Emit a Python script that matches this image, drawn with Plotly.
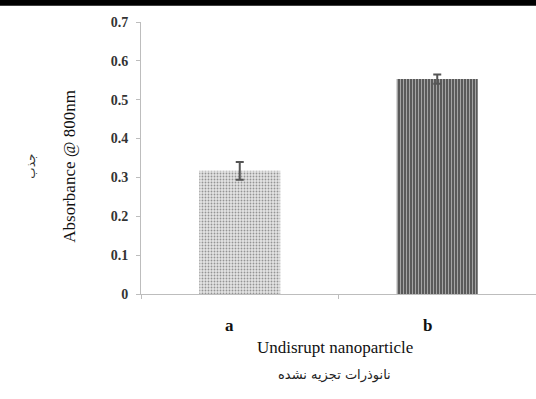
import plotly.graph_objects as go

categories = ["a", "b"]
values = [0.317, 0.553]
errors = [0.023, 0.012]
y_ticks = [0, 0.1, 0.2, 0.3, 0.4, 0.5, 0.6, 0.7]
y_tick_text = ["0", "0.1", "0.2", "0.3", "0.4", "0.5", "0.6", "0.7"]

fig = go.Figure()
fig.add_trace(go.Bar(
    x=categories, y=values, width=0.41,
    marker=dict(
        color=["#e4e4e4", "#5a5a5a"],
        line=dict(width=0),
        pattern=dict(shape=[".", "|"], fgcolor=["#d6d6d6", "#525252"],
                     bgcolor=["#e9e9e9", "#5c5c5c"], size=3, solidity=0.3),
    ),
    error_y=dict(type="data", array=errors, visible=True, color="#555555",
                 thickness=2, width=4),
))

for cat in categories:
    fig.add_annotation(x=cat, y=0, yref="y", xref="x", text="<b>%s</b>" % cat,
                       showarrow=False, yshift=-31, xshift=-10,
                       font=dict(family="Liberation Serif", size=17, color="#111111"))

fig.add_annotation(x=0.49, xref="paper", y=0, yref="y", yshift=-53,
                   text="Undisrupt nanoparticle", showarrow=False,
                   font=dict(family="Liberation Serif", size=17, color="#111111"))
fig.add_annotation(x=0.49, xref="paper", y=0, yref="y", yshift=-81,
                   text="نانوذرات تجزیه نشده", showarrow=False,
                   font=dict(family="DejaVu Sans", size=13, color="#222222"))
fig.add_annotation(x=-0.21, xref="paper", y=0.47, yref="paper",
                   text="Absorbance @ 800nm", showarrow=False, textangle=-90,
                   font=dict(family="Liberation Serif", size=17, color="#111111"))
fig.add_annotation(x=-0.3, xref="paper", y=0.47, yref="paper",
                   text="جذب", showarrow=False, textangle=-90,
                   font=dict(family="DejaVu Sans", size=12, color="#333333"))

fig.add_shape(type="rect", xref="paper", yref="paper", x0=-0.4, x1=1.1,
              y0=1.06, y1=1.2, fillcolor="black", line=dict(width=0), layer="above")

fig.update_layout(
    width=536, height=399,
    margin=dict(l=141, r=0, t=22, b=105),
    paper_bgcolor="white", plot_bgcolor="white",
    showlegend=False, bargap=0.59,
)
fig.update_xaxes(
    type="category", range=[-0.5, 1.5], showticklabels=False,
    showline=True, linecolor="#bdbdbd", linewidth=1,
    ticks="outside", tickson="boundaries", ticklen=4, tickcolor="#bdbdbd",
    showgrid=False, zeroline=False,
)
fig.update_yaxes(
    range=[0, 0.7], tickvals=y_ticks, ticktext=y_tick_text,
    showline=True, linecolor="#bdbdbd", linewidth=1,
    ticks="outside", ticklen=4, tickcolor="#bdbdbd",
    showgrid=False, zeroline=False,
    tickfont=dict(family="Liberation Serif", size=14, color="#333333", weight="bold"),
    ticklabelstandoff=5,
)

fig.write_html("out.html")
